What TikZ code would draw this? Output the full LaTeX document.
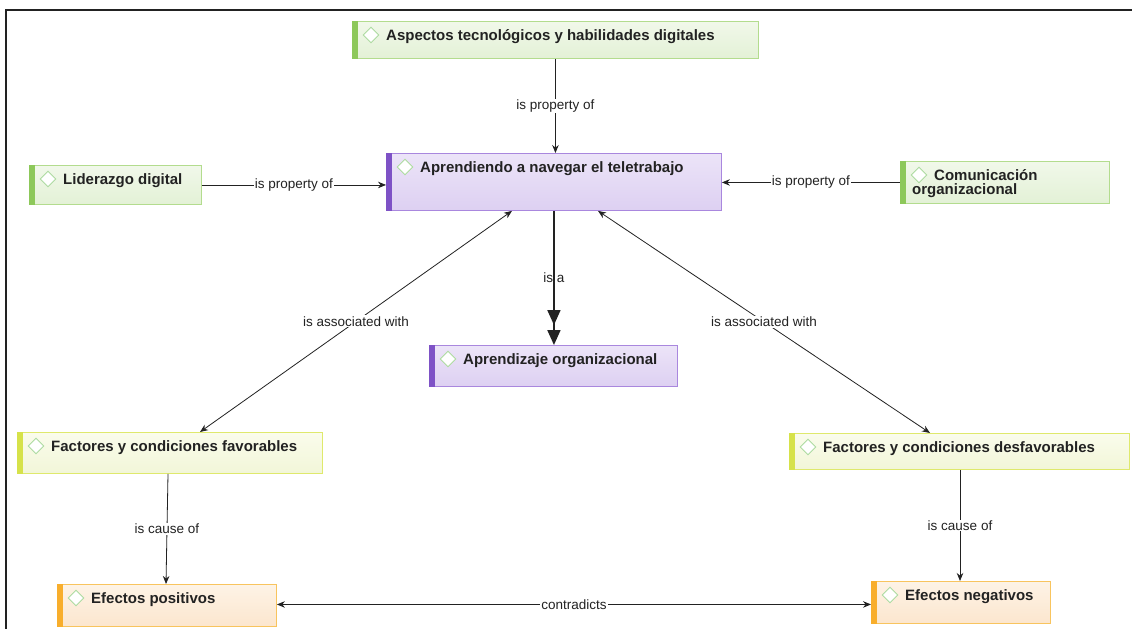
\documentclass[tikz,border=0pt]{standalone}
\usepackage{fontspec}
\setmainfont{Liberation Sans}
\usetikzlibrary{arrows.meta,shapes.geometric,calc}

\definecolor{ink}{HTML}{222222}
\definecolor{grnbar}{HTML}{8DC85A}
\definecolor{grnborder}{HTML}{B3DC8E}
\definecolor{grntop}{HTML}{F1F8EA}
\definecolor{grnbot}{HTML}{E3F1D6}
\definecolor{purbar}{HTML}{7E52C6}
\definecolor{purborder}{HTML}{A987DE}
\definecolor{purtop}{HTML}{ECE4F8}
\definecolor{purbot}{HTML}{DDD0F2}
\definecolor{yelbar}{HTML}{D6E24A}
\definecolor{yelborder}{HTML}{DFE96C}
\definecolor{yeltop}{HTML}{FAFCEC}
\definecolor{yelbot}{HTML}{F2F6D8}
\definecolor{orgbar}{HTML}{F8AE2C}
\definecolor{orgborder}{HTML}{F8C45E}
\definecolor{orgtop}{HTML}{FDF3E6}
\definecolor{orgbot}{HTML}{FCE6CE}
\definecolor{iconcol}{HTML}{ADDBA0}

\tikzset{
  boxbase/.style={rectangle, inner sep=0pt, line width=0.9pt},
  iconmark/.style={diamond, draw=iconcol, fill=white, line width=0.9pt, minimum size=16pt, inner sep=0pt},
  nodetext/.style={anchor=base west, inner sep=0pt, text=ink, font=\fontsize{15}{15}\selectfont\bfseries},
  lbl/.style={font=\fontsize{13.5}{13.5}\selectfont, fill=white, inner sep=1pt, text=ink},
  conn/.style={draw=ink, line width=0.8pt, -{Stealth[length=8pt,width=6.5pt]}},
  biconn/.style={draw=ink, line width=0.8pt, {Stealth[length=8pt,width=6.5pt]}-{Stealth[length=8pt,width=6.5pt]}},
  isaconn/.style={draw=ink, line width=1.8pt, -{Triangle[length=15pt,width=13pt,sep=5pt]Triangle[length=15pt,width=13pt]}},
}

% name, x1, y1, x2, y2, scheme, text
\newcommand\cmapbox[7]{%
  \node[boxbase, draw=#6border, top color=#6top, bottom color=#6bot,
        minimum width={#4-#2}, minimum height={#5-#3}, anchor=north west] (#1) at (#2,#3) {};
  \fill[fill=#6bar] (#1.north west) rectangle ([xshift=6pt]#1.south west);
  \node[iconmark] (#1icon) at ([xshift=19pt,yshift=-14pt]#1.north west) {};
  \node[nodetext] (#1text) at ([xshift=34pt,yshift=-19.5pt]#1.north west) {#7};
}

\begin{document}
\begin{tikzpicture}[x=1pt,y=-1pt]
\useasboundingbox (0,0) rectangle (1132,629);
\fill[white] (0,0) rectangle (1132,629);
% frame
\draw[ink, line width=1.3pt] (1132,10) -- (6,10) -- (6,629);

\cmapbox{as}{352}{21}{758}{58}{grn}{Aspectos tecnológicos y habilidades digitales}
\cmapbox{ap}{386}{153}{721}{210}{pur}{Aprendiendo a navegar el teletrabajo}
\cmapbox{ao}{429}{345}{677}{386}{pur}{Aprendizaje organizacional}
\cmapbox{ld}{29}{165}{201}{204}{grn}{Liderazgo digital}
\cmapbox{cm}{900}{161}{1109}{203}{grn}{Comunicación}
\node[nodetext] (cmtext2) at ([xshift=12pt,yshift=-33pt]cm.north west) {organizacional};
\cmapbox{ff}{17}{432}{322}{473}{yel}{Factores y condiciones favorables}
\cmapbox{fd}{789}{433}{1129}{469}{yel}{Factores y condiciones desfavorables}
\cmapbox{ep}{57}{584}{276}{626}{org}{Efectos positivos}
\cmapbox{en}{871}{581}{1050}{623}{org}{Efectos negativos}

% connectors
\draw[conn] (as.south) -- node[lbl]{is property of} (as.south |- ap.north);
\draw[conn] (ld.east) -- node[lbl]{is property of} (ld.east -| ap.west);
\draw[conn] (cm.west) -- node[lbl]{is property of} (cm.west -| ap.east);
\draw[isaconn] (ap.south) -- node[font=\fontsize{13.5}{13.5}\selectfont, text=ink, inner sep=1pt]{is a} (ap.south |- ao.north);
\draw[biconn] ([xshift=126pt]ap.south west) -- node[lbl]{is associated with} ([xshift=183pt]ff.north west);
\draw[biconn] ([xshift=212pt]ap.south west) -- node[lbl]{is associated with} ([xshift=141pt]fd.north west);
\draw[conn] ([xshift=151pt]ff.south west) -- node[lbl]{is cause of} ([xshift=109pt]ep.north west);
\draw[conn] ([xshift=171pt]fd.south west) -- node[lbl]{is cause of} ([xshift=89pt]en.north west);
\draw[biconn] ([yshift=1pt]ep.east) -- node[lbl]{contradicts} ([yshift=1pt]ep.east -| en.west);
\end{tikzpicture}
\end{document}
